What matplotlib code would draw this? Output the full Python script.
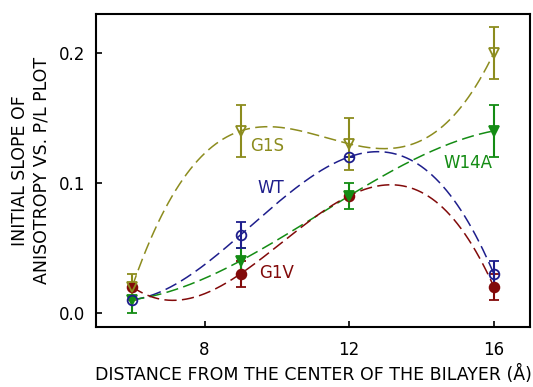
import numpy as np
import matplotlib.pyplot as plt

# distance from bilayer center (A)
depth = [6, 9, 12, 16]

g1s = [0.02, 0.14, 0.13, 0.20]
g1s_err = [0.01, 0.02, 0.02, 0.02]
wt = [0.01, 0.06, 0.12, 0.03]
wt_err = [0.0, 0.01, 0.0, 0.01]
w14a = [0.01, 0.04, 0.09, 0.14]
w14a_err = [0.01, 0.01, 0.01, 0.02]
g1v = [0.02, 0.03, 0.09, 0.02]
g1v_err = [0.0, 0.01, 0.0, 0.01]

names = ['G1S', 'WT', 'W14A', 'G1V']
label_pos = [(9.27, 0.128), (9.47, 0.096), (14.62, 0.115), (9.52, 0.0305)]

olive = '#8C8C1E'
navy = '#1E1E8C'
green = '#148C14'
red = '#820A0A'

fig = plt.figure(figsize=(5.33, 3.87), dpi=100)
ax = fig.add_axes([96/533, 1-327/387, (530-96)/533, (327-14)/387])

series = [
    (g1s, g1s_err, olive, 'v', 'none'),
    (wt, wt_err, navy, 'o', 'none'),
    (w14a, w14a_err, green, 'v', green),
    (g1v, g1v_err, red, 'o', red),
]

xs = np.linspace(depth[0], depth[-1], 200)
for vals, err, col, mk, fc in series:
    coef = np.polyfit(depth, vals, 3)
    ax.plot(xs, np.polyval(coef, xs), color=col, lw=1.1, ls=(0, (8, 3.5)))

# markers drawn in the stacking order seen in the figure
for i in [3, 2, 1, 0]:
    vals, err, col, mk, fc = series[i]
    ax.errorbar(depth, vals, yerr=err, fmt=mk, color=col, mfc=fc, mec=col,
                ms=7, mew=1.3, elinewidth=1.5, capsize=3.5, capthick=1.5)

for (n, (lx, ly)), (vals, err, col, mk, fc) in zip(zip(names, label_pos), series):
    ax.text(lx, ly, n, color=col, fontsize=12, va='center', ha='left')

ax.set_xlim(5, 17)
ax.set_ylim(-0.011, 0.23)
ax.set_xticks([8, 12, 16])
ax.set_yticks([0.0, 0.1, 0.2])
ax.set_yticklabels(['0.0', '0.1', '0.2'])
ax.tick_params(direction='in', labelsize=12, length=4, width=1.2, top=False, right=False)
ax.tick_params(axis='x', pad=10)
ax.tick_params(axis='y', pad=8)
for s in ax.spines.values():
    s.set_linewidth(1.5)

ax.set_xlabel('DISTANCE FROM THE CENTER OF THE BILAYER (Å)', fontsize=12.5, labelpad=4)
ax.set_ylabel('INITIAL SLOPE OF\nANISOTROPY VS. P/L PLOT', fontsize=12.5, labelpad=6)

fig.savefig('out.png', dpi=100)
